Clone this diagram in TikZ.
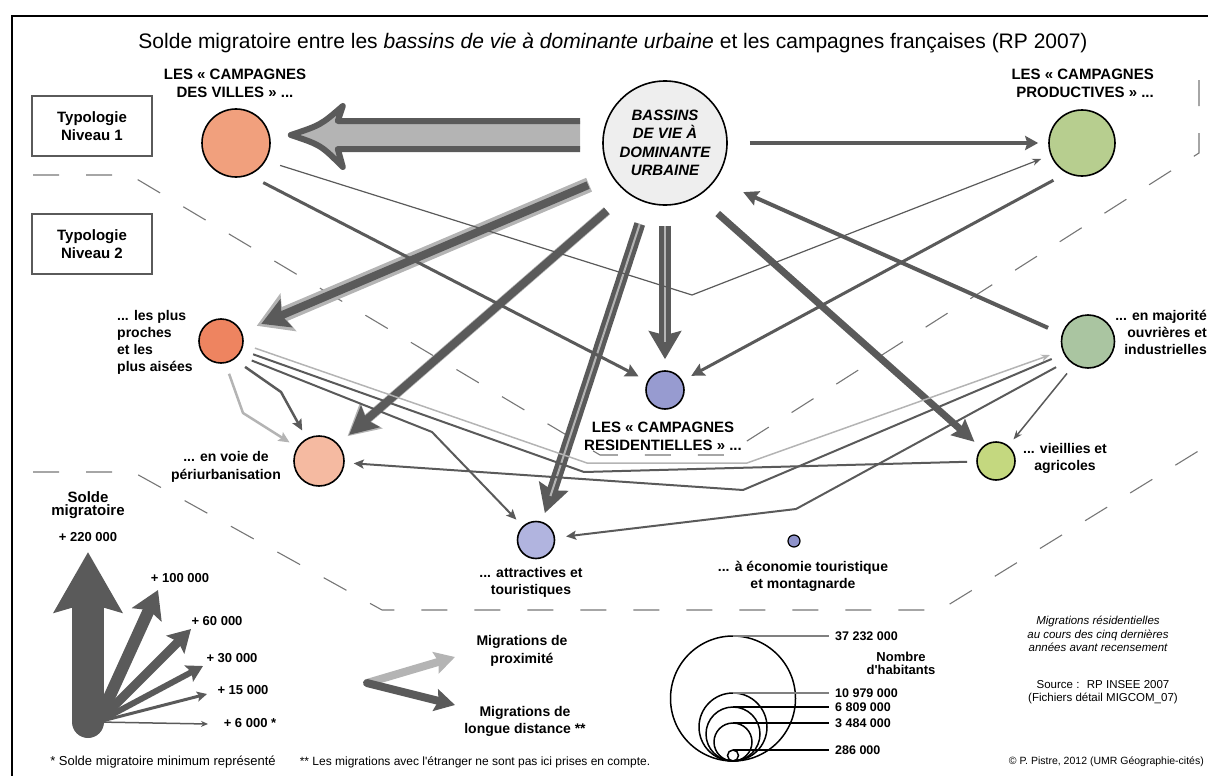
\documentclass[tikz,border=0pt]{standalone}
\usepackage{fontspec}
\setmainfont{Liberation Sans}
\usetikzlibrary{positioning,arrows.meta,calc}

\definecolor{dkgray}{HTML}{5A5A5A}
\definecolor{ltgray}{HTML}{B4B4B4}
\definecolor{sepgray}{HTML}{767676}
\definecolor{bvcol}{HTML}{EEEEEE}
\definecolor{cvcol}{HTML}{F1A07D}
\definecolor{cpcol}{HTML}{B7CE8F}
\definecolor{ppcol}{HTML}{EE8460}
\definecolor{pecol}{HTML}{F5BAA1}
\definecolor{recol}{HTML}{979BD0}
\definecolor{atcol}{HTML}{B1B4DF}
\definecolor{mocol}{HTML}{8E92CA}
\definecolor{oucol}{HTML}{AAC5A1}
\definecolor{vicol}{HTML}{C4D87F}

\newcommand{\fsz}[2]{\fontsize{#1}{#2}\selectfont}

\begin{document}
\begin{tikzpicture}[x=1pt, y=-1pt,
		zone/.style    = { circle, draw=black, line width=1.6pt, inner sep=0pt },
		typo/.style    = { rectangle, draw=dkgray, line width=1.8pt,
			minimum width=120pt, minimum height=60pt, align=center,
			font=\fsz{15}{18}\bfseries },
		bigcap/.style  = { align=center, inner sep=0pt, font=\fsz{15}{18}\bfseries },
		lab/.style     = { align=center, inner sep=0pt, font=\fsz{14}{17}\bfseries },
		sval/.style    = { inner sep=0pt, font=\fsz{13}{15}\bfseries },
		note/.style    = { align=center, inner sep=0pt, font=\fsz{11.5}{13.5} },
		foot/.style    = { inner sep=0pt, font=\fsz{12.5}{14} },
		sep/.style     = { draw=sepgray, line width=1.1pt, dash pattern=on 26pt off 27pt },
		flow/.style    = { draw=dkgray, line join=round },
		near/.style    = { draw=ltgray, line join=round },
		]
		\useasboundingbox (0,0) rectangle (1208,776);
		\clip (0,0) rectangle (1208,776);
		% frame
		\draw[black, line width=2pt] (12,800) -- (12,16) -- (1240,16);
		% typology separators
		\draw[sep] (33,175) -- (130,175) -- (600,455) -- (725,455) -- (1199,153) -- (1199,70);
		\draw[sep] (33,472) -- (133,472) -- (382,610) -- (940,610) -- (1200,450);
		
		% title
		\node[font=\fsz{21}{24}] (title) at (613,43) {Solde migratoire entre les \textit{bassins de vie à dominante urbaine} et les campagnes françaises (RP 2007)};
		
		% Define the circles
		\node[zone, fill=bvcol, minimum size=124pt, align=center,
			font=\fsz{15}{18.5}\bfseries\itshape] (bv) at (665,143) {BASSINS\\DE VIE À\\DOMINANTE\\URBAINE};
		\node[zone, fill=cvcol, minimum size=68pt] (cv) at (236,143) {};
		\node[zone, fill=cpcol, minimum size=66pt] (cp) at (1082,143) {};
		\node[zone, fill=ppcol, minimum size=44pt] (pp) at (221,341) {};
		\node[zone, fill=pecol, minimum size=50pt] (pe) at (319,461) {};
		\node[zone, fill=recol, minimum size=38pt] (re) at (665,390) {};
		\node[zone, fill=atcol, minimum size=37pt] (at) at (536,540) {};
		\node[zone, fill=oucol, minimum size=53pt] (ou) at (1088,341.5) {};
		\node[zone, fill=vicol, minimum size=38pt] (vi) at (996,461) {};
		\node[zone, fill=mocol, minimum size=12pt, line width=1.2pt] (mo) at (794,541) {};
		
		% labels
		\node[typo] (niv1) at (92,126) {Typologie\\Niveau 1};
		\node[typo] (niv2) at (92,244) {Typologie\\Niveau 2};
		\node[bigcap] (cvlab) at (235,83) {LES « CAMPAGNES\\DES VILLES » ...};
		\node[bigcap, align=right, anchor=east] (cplab) at (1154,83) {LES « CAMPAGNES\\PRODUCTIVES » ...};
		\node[bigcap] (relab) at (663,436) {LES « CAMPAGNES\\RESIDENTIELLES » ...};
		\node[lab, align=left, anchor=west] (pplab) at (117,342.5) {... les plus\\proches\\et les\\plus aisées};
		\node[lab, font=\fsz{14}{18}\bfseries] (pelab) at (226,467) {... en voie de\\périurbanisation};
		\node[lab] (atlab) at (531,582) {... attractives et\\touristiques};
		\node[lab] (molab) at (803,576) {... à économie touristique\\et montagnarde};
		\node[lab] (vilab) at (1065,458) {... vieillies et\\agricoles};
		\node[lab, align=right, anchor=east] (oulab) at (1207,332) {... en majorité\\ouvrières et\\industrielles};
		
		% bends of the connectors
		\coordinate (k1) at (692,295);
		\coordinate (k2) at (281,392);
		\coordinate (k3) at (243,413);
		\coordinate (k4) at (432,432);
		\coordinate (k5) at (587,463);
		\coordinate (k6) at (747,463);
		\coordinate (k7) at (584,472);
		\coordinate (k8) at (743,490);
		\coordinate (k9) at (796,509);
		
		% from the bassins de vie
		\coordinate (fs) at ($(bv.west)+(-22,-8)$);
		\coordinate (ft) at ($(cv.east)+(20,-8)$);
		\filldraw[fill=ltgray, draw=dkgray, line width=6pt, line join=round]
		($(fs)+(0,-14)$) -- ($(ft)+(47,-14)$) -- ($(ft)+(52,-29)$)
		.. controls ($(ft)+(30,-10)$) .. (ft)
		.. controls ($(ft)+(30,10)$) .. ($(ft)+(52,32)$)
		-- ($(ft)+(47,14)$) -- ($(fs)+(0,14)$);
		\draw[flow, line width=3.5pt, -{Stealth[length=13pt, width=14pt, inset=2pt]},
			shorten <=22pt, shorten >=10pt] (bv.east) -- (cp.west);
		\draw[flow, line width=7pt, -{Stealth[length=22pt, width=21pt, inset=3pt]},
			shorten <=26pt, shorten >=9pt] (bv.302) -- (vi);
		\draw[flow, line width=12pt, -{Stealth[length=28pt, width=32pt, inset=4pt]},
			shorten <=20pt, shorten >=11pt] (bv.south) -- (re.north);
		\draw[near, line width=2.5pt, shorten <=20pt, shorten >=28pt] (bv.south) -- (re.north);
		\draw[flow, line width=11pt, -{Stealth[length=28pt, width=30pt, inset=4pt]},
			shorten <=22pt, shorten >=9pt] (bv.253) -- (at);
		\draw[near, line width=2pt, shorten <=22pt, shorten >=27pt] (bv.253) -- (at);
		\draw[near, line width=15pt, -{Stealth[length=34pt, width=40pt, inset=6pt]},
			shorten <=24pt, shorten >=16pt] (bv.211) -- (pp);
		\draw[flow, line width=8pt, -{Stealth[length=27pt, width=30pt, inset=5pt]},
			shorten <=25pt, shorten >=21pt] (bv.211) -- (pp);
		\draw[near, line width=9.5pt, -{Stealth[length=31pt, width=33pt, inset=5pt]},
			shorten <=27pt, shorten >=12pt] (bv.233) -- (pe);
		\draw[flow, line width=8pt, -{Stealth[length=28pt, width=28pt, inset=5pt]},
			shorten <=27pt, shorten >=14pt] (bv.233) -- (pe);
		
		% towards the bassins and the residentielles
		\draw[flow, line width=4pt, -{Stealth[length=15pt, width=15pt, inset=2pt]},
			shorten <=15pt, shorten >=30pt] (ou.164) -- (bv.324);
		\draw[flow, line width=3pt, -{Stealth[length=13pt, width=13pt, inset=2pt]},
			shorten <=15pt, shorten >=10pt] (cp.243) -- (re);
		\draw[flow, line width=3pt, -{Stealth[length=13pt, width=13pt, inset=2pt]},
			shorten <=16pt, shorten >=10pt] (cv.292) -- (re);
		\draw[flow, line width=1.2pt, -{Stealth[length=9pt, width=7pt]},
			shorten <=15pt, shorten >=10pt] (cv.329) -- (k1) -- (cp);
		
		% from the plus proches
		\draw[flow, line width=2.5pt, -{Stealth[length=11pt, width=10pt, inset=2pt]},
			shorten <=13pt, shorten >=9pt] (pp.306) -- (k2) -- (pe);
		\draw[near, line width=2.5pt, -{Stealth[length=11pt, width=10pt, inset=2pt]},
			shorten <=11pt, shorten >=9pt] (pp.281) -- (k3) -- (pe);
		\draw[flow, line width=2pt, -{Stealth[length=10pt, width=9pt, inset=2pt]},
			shorten <=14pt, shorten >=9pt] (pp.321) -- (k4) -- (at);
		\draw[near, line width=1.5pt, -{Stealth[length=9pt, width=7pt]},
			shorten <=12pt, shorten >=13pt] (pp.352) -- (k5) -- (k6) -- (ou);
		\draw[flow, line width=2pt, shorten <=12pt, shorten >=9pt] (pp.336) -- (k7) -- (vi);
		
		% from the ouvrieres
		\draw[flow, line width=1.5pt, -{Stealth[length=9pt, width=7pt]},
			shorten <=11pt, shorten >=8pt] (ou.239) -- (vi);
		\draw[flow, line width=2pt, -{Stealth[length=10pt, width=9pt, inset=2pt]},
			shorten <=13pt, shorten >=9pt] (ou.207) -- (k8) -- (pe);
		\draw[flow, line width=2pt, -{Stealth[length=10pt, width=9pt, inset=2pt]},
			shorten <=14pt, shorten >=11pt] (ou.224) -- (k9) -- (at);
		
		% legend: solde migratoire
		\node[font=\fsz{15}{13.5}\bfseries, align=center, inner sep=0pt] (solde) at (88,505) {Solde\\migratoire};
		\node[sval] (v220) at (88,537) {+ 220 000};
		\node[sval] (v100) at (180,578) {+ 100 000};
		\node[sval] (v60) at (217,621) {+ 60 000};
		\node[sval] (v30) at (232,658) {+ 30 000};
		\node[sval] (v15) at (243,690) {+ 15 000};
		\node[sval] (v6) at (250,723) {+ 6 000 *};
		\coordinate (lf) at (98,722);
		\draw[dkgray, line width=1.5pt, -{Stealth[length=7pt, width=6pt]}] (lf) -- (208,724);
		\draw[dkgray, line width=3pt, -{Stealth[length=10pt, width=10pt, inset=2pt]}] (lf) -- (207,694);
		\draw[dkgray, line width=6pt, -{Stealth[length=16pt, width=18pt, inset=3pt]}] (lf) -- (203,666);
		\draw[dkgray, line width=9pt, -{Stealth[length=22pt, width=25pt, inset=4pt]}] (lf) -- (191,629);
		\draw[dkgray, line width=12pt, -{Stealth[length=27pt, width=32pt, inset=5pt]}] (lf) -- (158,590);
		\draw[dkgray, line width=32pt, line cap=round, -{Stealth[length=60pt, width=67pt, inset=9pt]}] (88,722) -- (88,552);
		
		% legend: proximite / longue distance
		\coordinate (m0) at (367,683);
		\draw[ltgray, line width=8pt, -{Stealth[length=20pt, width=22pt, inset=3pt]}] (m0) -- (455,657);
		\draw[dkgray, line width=8pt, line cap=round, -{Stealth[length=20pt, width=22pt, inset=3pt]}] (m0) -- (455,705);
		\node[lab, font=\fsz{14}{18}\bfseries] (mprox) at (522,651) {Migrations de\\proximité};
		\node[lab, font=\fsz{14}{17}\bfseries] (mlong) at (525,721) {Migrations de\\longue distance **};
		
		% legend: nombre d'habitants
		\coordinate (c0) at (733,761);
		\foreach \r/\val/\col in {62.5/{37 232 000}/gray, 34/{10 979 000}/gray, 27/{6 809 000}/black, 19/{3 484 000}/black, 5.5/{286 000}/black} {
			\draw[line width=1.5pt] (c0) ++(0,-\r) circle[radius=\r];
			\draw[\col, line width=1.2pt] (733,{761-2*\r}) -- (829,{761-2*\r});
			\node[sval, font=\fsz{12.5}{14}\bfseries, anchor=west] at (835,{761-2*\r}) {\val};
		}
		\node[font=\fsz{13}{13}\bfseries, align=center, inner sep=0pt] (nhab) at (901,663) {Nombre\\d\textquotesingle habitants};
		
		% notes
		\node[note, font=\fsz{11.5}{13.5}\itshape] (mres) at (1098,634) {Migrations résidentielles\\au cours des cinq dernières\\années avant recensement};
		\node[note, font=\fsz{11.5}{13}] (src) at (1103,692) {Source :~ RP INSEE 2007\\(Fichiers détail MIGCOM\_07)};
		\node[foot, font=\fsz{10.5}{13}, anchor=east] (copy) at (1204,762) {© P. Pistre, 2012 (UMR Géographie-cités)};
		\node[foot, font=\fsz{13}{14}] (f1) at (163,762) {* Solde migratoire minimum représenté};
		\node[foot, font=\fsz{12}{14}] (f2) at (475,762) {** Les migrations avec l\textquotesingle étranger ne sont pas ici prises en compte.};
\end{tikzpicture}
\end{document}
